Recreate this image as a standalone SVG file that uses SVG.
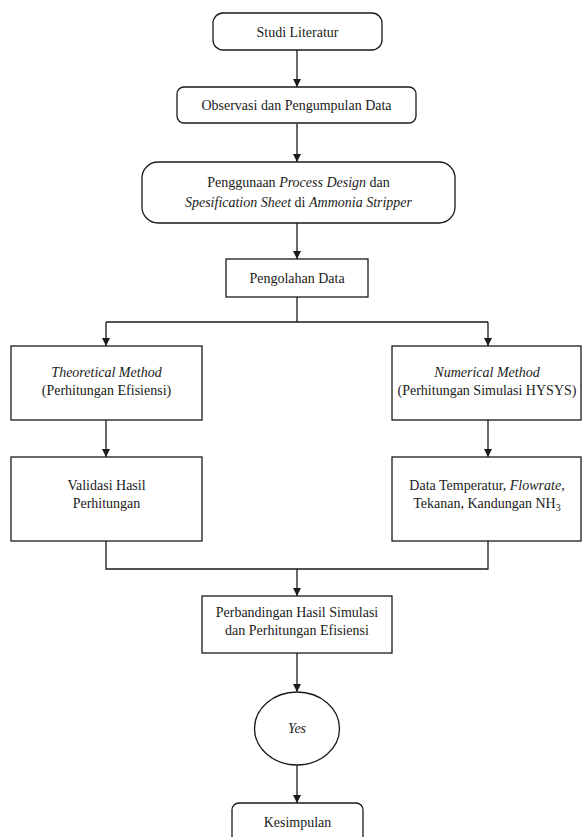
<svg xmlns="http://www.w3.org/2000/svg" width="582" height="837" viewBox="0 0 582 837">
<defs>
<marker id="ah" viewBox="0 0 10 10" refX="10" refY="5" markerWidth="8" markerHeight="8" markerUnits="userSpaceOnUse" orient="auto">
<path d="M0,0 L10,5 L0,10 z" fill="#1a1a1a"/>
</marker>
<style>
.n{fill:#fff;stroke:#1a1a1a;stroke-width:1.3}
.t{font-family:'Liberation Serif',Tinos,'Times New Roman',Times,'Nimbus Roman','DejaVu Serif',serif;font-size:14px;fill:#1a1a1a;text-anchor:middle}
.i{font-style:italic}
.c{fill:none;stroke:#1a1a1a;stroke-width:1.3}
</style>
</defs>
<rect width="582" height="837" fill="#fff"/>
<g id="connectors">
<path class="c" d="M297,50 V87" marker-end="url(#ah)"/>
<path class="c" d="M297,124 V162" marker-end="url(#ah)"/>
<path class="c" d="M297,223 V259" marker-end="url(#ah)"/>
<path class="c" d="M297,297 V322"/>
<path class="c" d="M106,322 H488"/>
<path class="c" d="M106,322 V346" marker-end="url(#ah)"/>
<path class="c" d="M488,322 V346" marker-end="url(#ah)"/>
<path class="c" d="M106,420 V457" marker-end="url(#ah)"/>
<path class="c" d="M488,420 V457" marker-end="url(#ah)"/>
<path class="c" d="M106,541 V569 H488 V541"/>
<path class="c" d="M297,569 V596" marker-end="url(#ah)"/>
<path class="c" d="M297,653 V692" marker-end="url(#ah)"/>
<path class="c" d="M297,765 V803" marker-end="url(#ah)"/>
</g>
<g id="studi">
<rect class="n" x="213" y="13" width="169" height="37" rx="10"/>
<text class="t" x="297.5" y="37">Studi Literatur</text>
</g>
<g id="observasi">
<rect class="n" x="177" y="87" width="239" height="36" rx="7"/>
<text class="t" x="296.5" y="110">Observasi dan Pengumpulan Data</text>
</g>
<g id="penggunaan">
<rect class="n" x="142" y="162" width="313" height="61" rx="16"/>
<text class="t" x="298.5" y="187">Penggunaan <tspan class="i">Process Design</tspan> dan</text>
<text class="t" x="298.5" y="207"><tspan class="i">Spesification Sheet</tspan> di <tspan class="i">Ammonia Stripper</tspan></text>
</g>
<g id="pengolahan">
<rect class="n" x="226" y="259" width="142" height="38"/>
<text class="t" x="297" y="283">Pengolahan Data</text>
</g>
<g id="theoretical">
<rect class="n" x="11" y="346" width="191" height="74"/>
<text class="t i" x="106.5" y="377">Theoretical Method</text>
<text class="t" x="106.5" y="395">(Perhitungan Efisiensi)</text>
</g>
<g id="numerical">
<rect class="n" x="392" y="346" width="189" height="74"/>
<text class="t i" x="487" y="377">Numerical Method</text>
<text class="t" x="487" y="395">(Perhitungan Simulasi HYSYS)</text>
</g>
<g id="validasi">
<rect class="n" x="11" y="457" width="191" height="84"/>
<text class="t" x="106.5" y="490">Validasi Hasil</text>
<text class="t" x="106.5" y="508">Perhitungan</text>
</g>
<g id="data">
<rect class="n" x="392" y="457" width="189" height="84"/>
<text class="t" x="487" y="490">Data Temperatur, <tspan class="i">Flowrate</tspan>,</text>
<text class="t" x="487" y="508">Tekanan, Kandungan NH<tspan font-size="10" dy="3">3</tspan></text>
</g>
<g id="perbandingan">
<rect class="n" x="202" y="596" width="190" height="57"/>
<text class="t" x="297" y="617">Perbandingan Hasil Simulasi</text>
<text class="t" x="297" y="635">dan Perhitungan Efisiensi</text>
</g>
<g id="yes">
<ellipse class="n" cx="297" cy="728.5" rx="42.5" ry="36.5"/>
<text class="t i" x="297" y="733">Yes</text>
</g>
<g id="kesimpulan">
<rect class="n" x="232" y="803" width="131" height="50" rx="7"/>
<text class="t" x="297.5" y="827">Kesimpulan</text>
</g>
</svg>
